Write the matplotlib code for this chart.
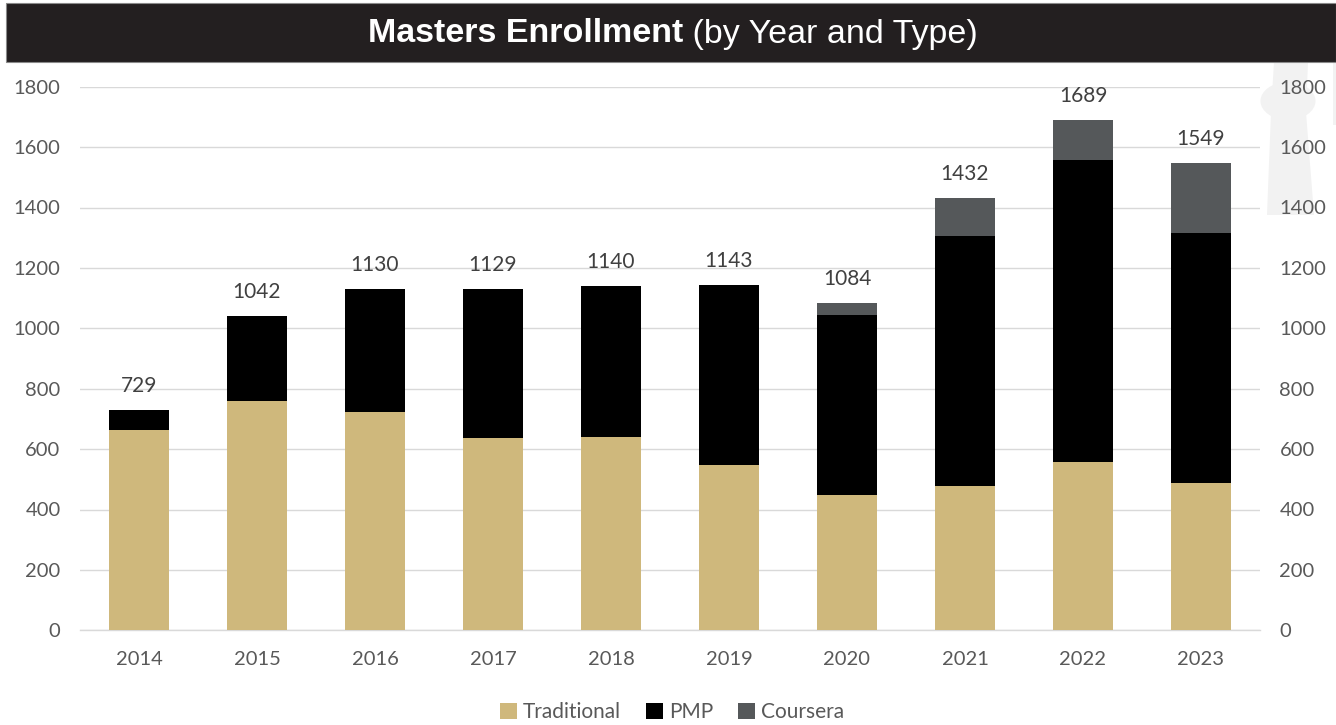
import matplotlib
matplotlib.use("Agg")
import matplotlib.pyplot as plt
from matplotlib.patches import Rectangle, Polygon, Ellipse
import numpy as np

# Enrollment counts by year and program type
years = ["2014", "2015", "2016", "2017", "2018", "2019", "2020", "2021", "2022", "2023"]
traditional = [664, 760, 724, 637, 640, 548, 448, 478, 557, 489]
pmp = [65, 282, 406, 492, 500, 595, 595, 827, 1000, 828]
coursera = [0, 0, 0, 0, 0, 0, 41, 127, 132, 232]
totals = [729, 1042, 1130, 1129, 1140, 1143, 1084, 1432, 1689, 1549]
y_ticks = [0, 200, 400, 600, 800, 1000, 1200, 1400, 1600, 1800]

W, H = 1336, 725
GOLD = "#CFB87C"
BLACK = "#000000"
GREY = "#55585A"
TICK_COLOR = "#595959"
LABEL_COLOR = "#404040"
FONT = ["Lato", "DejaVu Sans"]

plt.rcParams["font.family"] = FONT

fig = plt.figure(figsize=(W / 100, H / 100), dpi=100)
fig.patch.set_facecolor("white")


def fx(x):
    return x / W


def fy(y):
    return 1 - y / H


# faint emblem on the right edge, kept behind everything else
emblem = "#F2F2F2"
fig.patches.append(Polygon([(fx(1274), fy(62)), (fx(1308), fy(62)), (fx(1306), fy(112)),
                            (fx(1314), fy(215)), (fx(1267), fy(215)), (fx(1271), fy(112))],
                           closed=True, transform=fig.transFigure, facecolor=emblem,
                           edgecolor="none", zorder=-5))
fig.patches.append(Ellipse((fx(1288), fy(101)), 55 / W, 38 / H, transform=fig.transFigure,
                           facecolor=emblem, edgecolor="none", zorder=-5))
fig.patches.append(Rectangle((fx(1333), fy(125)), 3 / W, 63 / H, transform=fig.transFigure,
                             facecolor=emblem, edgecolor="none", zorder=-5))

# title banner
fig.patches.append(Rectangle((fx(6), fy(62)), (W - 6) / W, 59 / H, transform=fig.transFigure,
                             facecolor="#231F20", edgecolor="#8A8A8A", linewidth=0.8, zorder=-1))

ax = fig.add_axes([fx(80), fy(630.3), (1260 - 80) / W, (630.3 - 86.7) / H])
ax.set_zorder(1)
ax.patch.set_alpha(0)

x = np.arange(len(years))
width = 0.505
bottom2 = np.array(traditional) + np.array(pmp)
ax.bar(x, traditional, width, color=GOLD, label="Traditional", zorder=3)
ax.bar(x, pmp, width, bottom=traditional, color=BLACK, label="PMP", zorder=3)
ax.bar(x, coursera, width, bottom=bottom2, color=GREY, label="Coursera", zorder=3)

for xi, t in zip(x, totals):
    ax.annotate(str(t), (xi, t), xytext=(0, 10), textcoords="offset points",
                ha="center", va="bottom", fontsize=15, color=LABEL_COLOR)

ax.set_xlim(-0.5, len(years) - 0.5)
ax.set_ylim(0, 1800)
ax.set_yticks(y_ticks)
ax.set_xticks(x)
ax.set_xticklabels(years)
ax.grid(axis="y", color="#D9D9D9", linewidth=1, zorder=0)
ax.set_axisbelow(True)
for s in ["top", "right", "left"]:
    ax.spines[s].set_visible(False)
ax.spines["bottom"].set_color("#D9D9D9")
ax.spines["bottom"].set_linewidth(1)
ax.tick_params(axis="y", length=0, pad=14, labelsize=14.5, labelcolor=TICK_COLOR,
               left=True, right=True, labelleft=True, labelright=True)
ax.tick_params(axis="x", length=0, pad=15, labelsize=14.5, labelcolor=TICK_COLOR)

leg = fig.legend(loc="center", bbox_to_anchor=(fx(672), fy(712)), ncol=3, frameon=False,
                 fontsize=15, handlelength=0.8, handleheight=0.8, handletextpad=0.3,
                 columnspacing=1.2, labelcolor=TICK_COLOR)

# two-part title centred in the banner
fig.canvas.draw()
r = fig.canvas.get_renderer()
title_font = ["Liberation Sans", "DejaVu Sans"]
t1 = fig.text(0, fy(34), "Masters Enrollment", color="white", fontsize=24.5, fontweight="bold",
              family=title_font, va="center", ha="left")
t2 = fig.text(0, fy(34), " (by Year and Type)", color="white", fontsize=24.5,
              family=title_font, va="center", ha="left")
w1 = t1.get_window_extent(r).width
w2 = t2.get_window_extent(r).width
start = 673 - (w1 + w2) / 2
t1.set_x(fx(start))
t2.set_x(fx(start + w1))

fig.savefig("out.png", dpi=100, facecolor="white")
